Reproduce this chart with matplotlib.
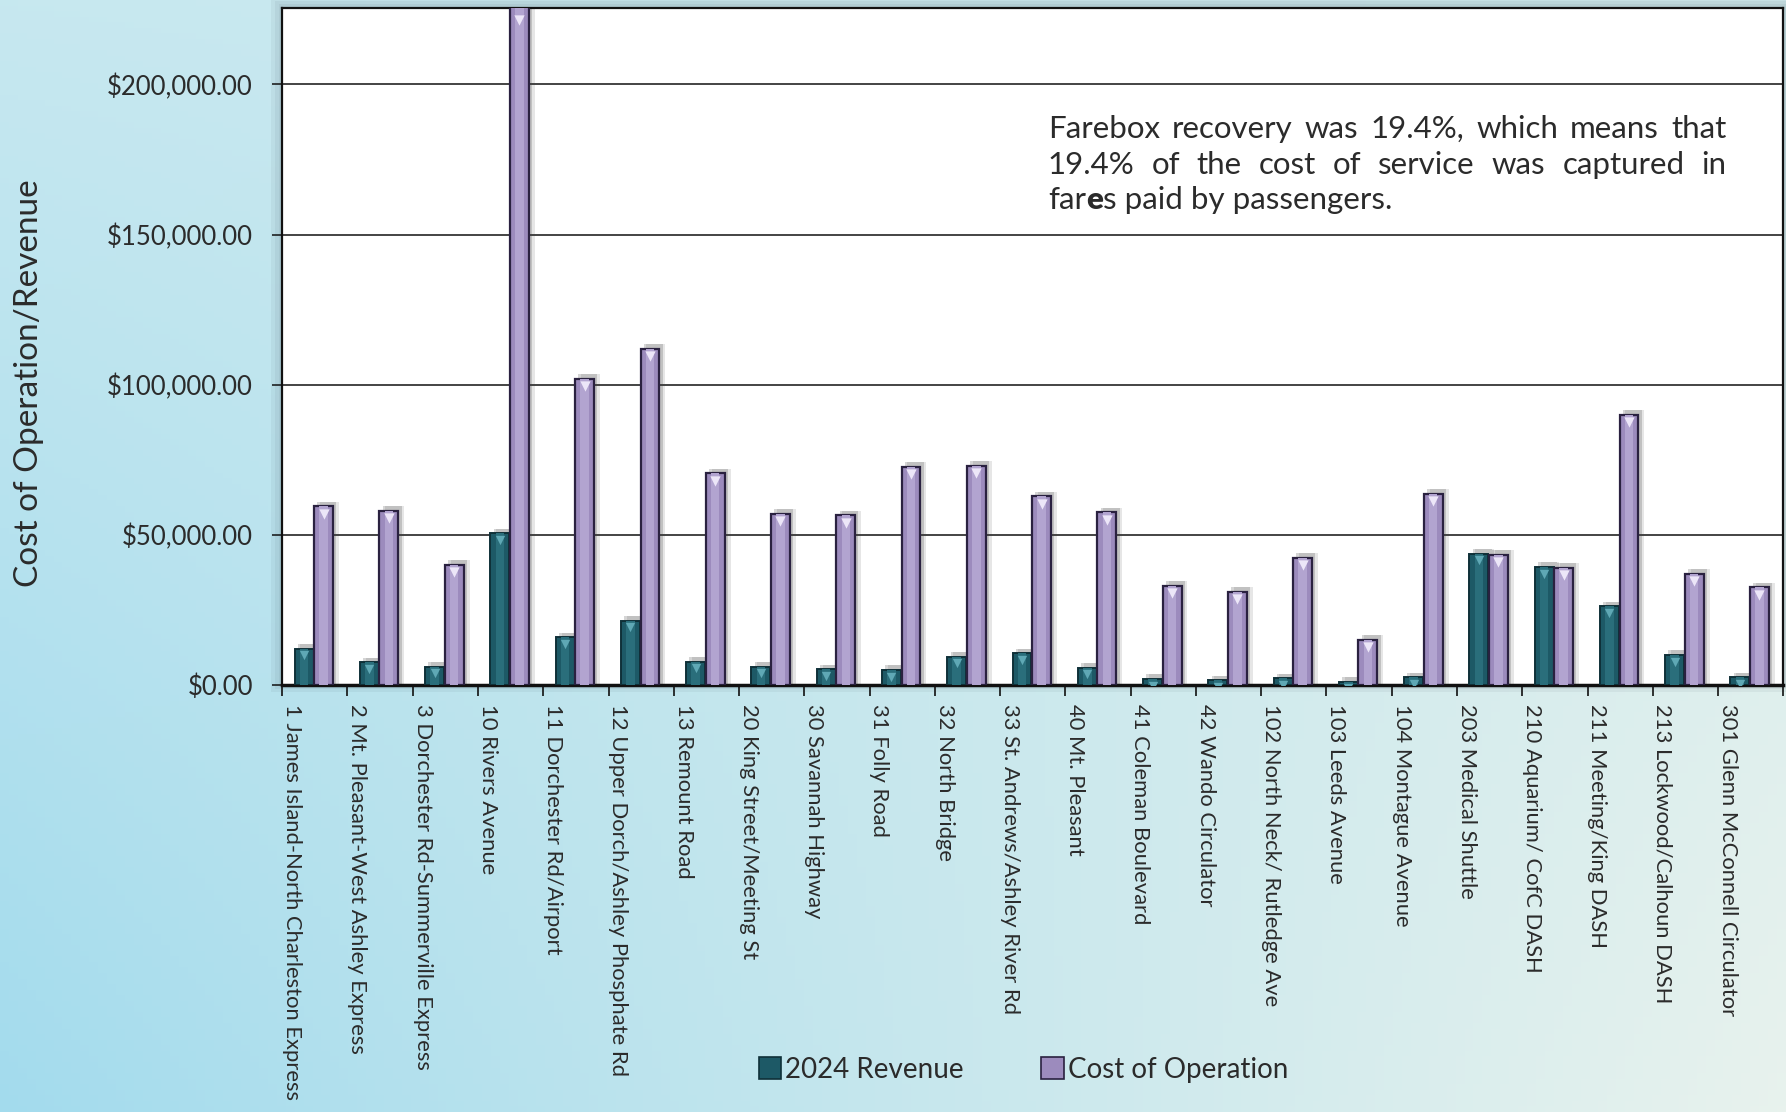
import numpy as np
import matplotlib.pyplot as plt
from matplotlib.patches import Patch, Rectangle
from matplotlib.ticker import FuncFormatter, MultipleLocator

routes = [
    "1 James Island-North Charleston Express",
    "2 Mt. Pleasant-West Ashley Express",
    "3 Dorchester Rd-Summerville Express",
    "10 Rivers Avenue",
    "11 Dorchester Rd/Airport",
    "12 Upper Dorch/Ashley Phosphate Rd",
    "13 Remount Road",
    "20 King Street/Meeting St",
    "30 Savannah Highway",
    "31 Folly Road",
    "32 North Bridge",
    "33 St. Andrews/Ashley River Rd",
    "40 Mt. Pleasant",
    "41 Coleman Boulevard",
    "42 Wando Circulator",
    "102 North Neck/ Rutledge Ave",
    "103 Leeds Avenue",
    "104 Montague Avenue",
    "203 Medical Shuttle",
    "210 Aquarium/ CofC DASH",
    "211 Meeting/King DASH",
    "213 Lockwood/Calhoun DASH",
    "301 Glenn McConnell Circulator",
]
revenue = [12100, 7600, 6100, 50500, 15900, 21400, 7700, 6100, 5300, 5000, 9400,
           10600, 5800, 2000, 1500, 2200, 1100, 2500, 43700, 39300, 26200, 10000, 2500]
cost = [59500, 58000, 40000, 240000, 102000, 112000, 70500, 57000, 56500, 72700, 73000,
        62900, 57500, 33000, 31000, 42400, 15100, 63700, 43400, 39000, 90000, 37000, 32500]

legend_names = ["2024 Revenue", "Cost of Operation"]
note_lines = ["Farebox recovery was 19.4%, which means that",
              "19.4% of the cost of service was captured in"]

plt.rcParams['font.family'] = ['Lato', 'DejaVu Sans']
TXT = "#2b2b2b"

fig = plt.figure(figsize=(17.86, 11.12), dpi=100)

# background gradient
bg = fig.add_axes([0, 0, 1, 1], zorder=-10)
tl, tr = np.array([0.78, 0.91, 0.94]), np.array([0.82, 0.92, 0.93])
bl, br = np.array([0.64, 0.86, 0.93]), np.array([0.91, 0.95, 0.93])
u = np.linspace(0, 1, 200)[None, :, None]
v = np.linspace(0, 1, 200)[:, None, None]
grad = (1 - v) * ((1 - u) * tl + u * tr) + v * ((1 - u) * bl + u * br)
bg.imshow(grad, aspect="auto", extent=[0, 1, 0, 1], origin="upper")
bg.axis("off")

# plot area shadow
for k in range(3):
    d = 0.002 * (k + 1)
    fig.patches.append(Rectangle((0.158 - d, 0.384 - d), 0.8405 + 2 * d, 0.609 + 2.5 * d,
                                 transform=fig.transFigure, color="#304050", alpha=0.06,
                                 lw=0, zorder=-5))

ax = fig.add_axes([0.158, 0.384, 0.8405, 0.609])
ax.set_facecolor("white")
x = np.arange(len(routes))
w = 0.29
xr = x - 0.165
xc = x + 0.135

# soft shadows
for off, al in [(0.05, 0.22), (0.09, 0.13)]:
    ax.bar(xr + off, np.array(revenue) + 1500, w, color="#404040", alpha=al, lw=0, zorder=2)
    ax.bar(xc + off, np.array(cost) + 1500, w, color="#404040", alpha=al, lw=0, zorder=2)

ax.bar(xr, revenue, w, color="#1d5966", edgecolor="#0f3038", lw=1.4, zorder=3)
ax.bar(xr, revenue, w * 0.45, color="#2a6e7b", lw=0, zorder=4)
ax.bar(xc, cost, w, color="#9c8bbd", edgecolor="#2a2140", lw=1.6, zorder=3)
ax.bar(xc, cost, w * 0.45, color="#b2a4d0", lw=0, zorder=4)
ax.scatter(xr, np.array(revenue) - 2200, marker="v", s=45, color="#5fa8b5", zorder=5, lw=0)
ax.scatter(xc, np.minimum(cost, 224000) - 2500, marker="v", s=55, color="#ece6f8", zorder=5, lw=0)

ax.set_xlim(-0.5, len(routes) - 0.5)
ax.set_ylim(0, 225500)
ax.yaxis.set_major_locator(MultipleLocator(50000))
ax.yaxis.set_major_formatter(FuncFormatter(lambda val, p: f"${val:,.2f}"))
ax.grid(axis="y", color="#111111", lw=1.1, zorder=1)
ax.set_axisbelow(True)
ax.tick_params(axis="y", labelsize=18.5, length=7, width=1.1, colors="#111111",
               labelcolor=TXT, pad=14)

ax.set_xticks(np.arange(len(routes) + 1) - 0.5)
ax.set_xticklabels([])
ax.set_xticks(x - 0.35, routes, minor=True, rotation=270, fontsize=15.8, color=TXT,
              ha="center", va="top")
ax.tick_params(axis="x", which="major", length=8, width=1.2, colors="#111111")
ax.tick_params(axis="x", which="minor", length=0, pad=14)

for s in ax.spines.values():
    s.set_color("#111111")
    s.set_linewidth(1.6)
ax.spines["bottom"].set_linewidth(2.5)

fig.text(0.016, 0.655, "Cost of Operation/Revenue", rotation=90, ha="center", va="center",
         fontsize=24, color=TXT)

# justified note inside the plot area
fig.canvas.draw()
r = fig.canvas.get_renderer()
ax_w = ax.get_window_extent(r).width
x0, x1 = 0.510, 0.962
note_kw = dict(transform=ax.transAxes, fontsize=22.5, color=TXT, va="center", ha="left")
for yy, line in zip([0.821, 0.768], note_lines):
    words = line.split()
    items = [ax.text(0, yy, wd, **note_kw) for wd in words]
    widths = [t.get_window_extent(r).width / ax_w for t in items]
    gap = ((x1 - x0) - sum(widths)) / (len(words) - 1)
    pos = x0
    for t, wd in zip(items, widths):
        t.set_x(pos)
        pos += wd + gap
pos = x0
for part, wt in [("far", "normal"), ("e", "heavy"), ("s paid by passengers.", "normal")]:
    t = ax.text(pos, 0.716, part, fontweight=wt, **note_kw)
    pos += t.get_window_extent(r).width / ax_w

handles = [Patch(facecolor="#1d5966", edgecolor="#0f3038", lw=1.2),
           Patch(facecolor="#9c8bbd", edgecolor="#2a2140", lw=1.2)]
fig.legend(handles, legend_names, loc="center", bbox_to_anchor=(0.573, 0.038), ncol=2,
           frameon=False, fontsize=20, handlelength=0.8, handleheight=0.8,
           handletextpad=0.15, columnspacing=2.8, labelcolor=TXT)

fig.savefig("out.png", dpi=100)
